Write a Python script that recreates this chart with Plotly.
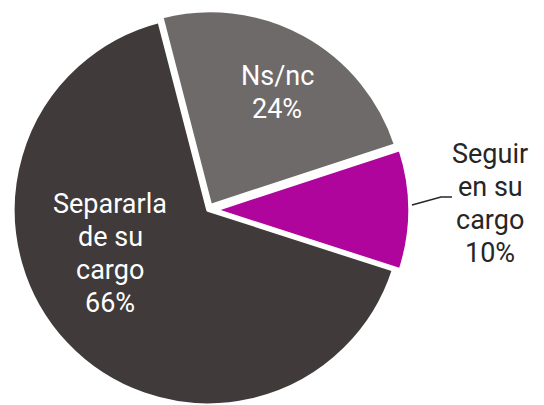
import math
import plotly.graph_objects as go

labels = ["Ns/nc", "Seguir en su cargo", "Separarla de su cargo"]
label_lines = [["Ns/nc"], ["Seguir", "en su", "cargo"], ["Separarla", "de su", "cargo"]]
values = [24, 10, 66]
colors = ["#6e6a69", "#b0059d", "#403a3a"]
pulls = [0.026, 0.035, 0.0]
text_colors = ["white", "#262626", "white"]

W, H = 544, 405
OFF = 8  # the page body has an 8px default margin; layout positions below are page px
start_angle = -14.5          # degrees clockwise from 12 o'clock
cx, cy, r = 208, 210, 195    # pie centre / radius in page px (layout)


def px_x(x):
    return (x - OFF) / W


def px_y(y):
    return 1 - (y - OFF) / H


fig = go.Figure()
total = sum(values)
cum = 0
for i in range(len(values)):
    mid = start_angle + 360 * (cum + values[i] / 2) / total
    cum += values[i]
    dx = pulls[i] * r * math.sin(math.radians(mid))
    dy = -pulls[i] * r * math.cos(math.radians(mid))
    x0 = max(0, px_x(cx - r + dx))
    x1 = min(1, px_x(cx + r + dx))
    y0 = max(0, px_y(cy + r + dy))
    y1 = min(1, px_y(cy - r + dy))
    fill = [colors[j] if j == i else "rgba(0,0,0,0)" for j in range(len(values))]
    line = ["white" if j == i else "rgba(0,0,0,0)" for j in range(len(values))]
    fig.add_trace(go.Pie(
        labels=labels,
        values=values,
        sort=False,
        direction="clockwise",
        rotation=start_angle,
        marker=dict(colors=fill, line=dict(color=line, width=3.5)),
        textinfo="none",
        hoverinfo="skip",
        showlegend=False,
        domain=dict(x=[x0, x1], y=[y0, y1]),
    ))

font_family = "Roboto, 'DejaVu Sans', sans-serif"
fsize = 27
# label blocks: centre x and first baseline (page px), line step (px)
blocks = [(277, 85), (490, 163), (110, 213)]
step = 33
for (bx, by), lines, v, c in zip(blocks, label_lines, values, text_colors):
    all_lines = lines + [f"{v}%"]
    for k, t in enumerate(all_lines):
        base = by + k * step
        fig.add_annotation(
            x=px_x(bx), y=px_y(base - 0.34 * fsize), xref="paper", yref="paper",
            text=t, showarrow=False,
            font=dict(family=font_family, size=fsize, color=c),
            xanchor="center", yanchor="middle",
        )

# leader line for the outside label
pts = [(412, 205), (441, 197), (452, 197)]
path = "M " + " L ".join(f"{px_x(px)},{px_y(py)}" for px, py in pts)
fig.add_shape(type="path", path=path, xref="paper", yref="paper",
              line=dict(color="#262626", width=1.5))

fig.update_layout(
    width=W, height=H,
    margin=dict(l=0, r=0, t=0, b=0),
    paper_bgcolor="white", plot_bgcolor="white",
)
fig.write_html("out.html")
